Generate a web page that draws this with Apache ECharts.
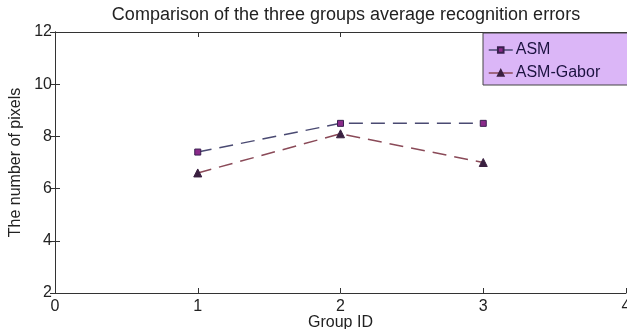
<!DOCTYPE html>
<html><head><meta charset="utf-8">
<script src="https://cdn.jsdelivr.net/npm/echarts@6/dist/echarts.min.js"></script>
<style>html,body{margin:0;padding:0;background:#fff}#c{width:627px;height:329px}</style>
</head><body><div id="c"></div>
<script>
const groupIds = [1, 2, 3];
const asm = [7.4, 8.5, 8.5];
const asmGabor = [6.6, 8.1, 7.0];
const seriesNames = ['ASM', 'ASM-Gabor'];
const titleText = 'Comparison of the three groups average recognition errors';
const xLabel = 'Group ID';
const yLabel = 'The number of pixels';

const font = 'Liberation Sans, Arial, sans-serif';
const axisCol = '#333';
const chart = echarts.init(document.getElementById('c'), null, {renderer: 'canvas'});
const frameAxis = (pos, isX) => ({
  type: 'value', position: pos, min: isX ? 0 : 2, max: isX ? 4 : 12, interval: isX ? 1 : 2,
  axisLine: {show: true, lineStyle: {color: axisCol, width: 1}},
  axisTick: {show: true, inside: true, length: 5, lineStyle: {color: axisCol}},
  axisLabel: {show: false}, splitLine: {show: false}
});
chart.setOption({
  animation: false,
  backgroundColor: '#fff',
  title: {text: titleText, left: 341, textAlign: 'center', top: 1,
    textStyle: {fontFamily: font, fontSize: 18, fontWeight: 'normal', color: '#222'}},
  grid: {left: 55, right: 1, top: 32, bottom: 36, containLabel: false, outerBoundsMode: 'none'},
  legend: {
    orient: 'vertical', left: 483, top: 33,
    padding: [9, 40, 4, 5], itemGap: 7, itemWidth: 24, itemHeight: 7,
    backgroundColor: '#dbb6f7', borderColor: '#444', borderWidth: 1,
    lineStyle: {type: 'solid', width: 1.5},
    textStyle: {fontFamily: font, fontSize: 16, color: '#1c1240', padding: [0, 0, 0, -2]},
    data: seriesNames
  },
  xAxis: [{
    type: 'value', min: 0, max: 4, interval: 1, position: 'bottom',
    name: xLabel, nameLocation: 'middle', nameGap: 22, nameMoveOverlap: false,
    nameTextStyle: {fontFamily: font, fontSize: 16, color: '#222'},
    axisLine: {show: true, lineStyle: {color: axisCol, width: 1}},
    axisTick: {show: true, inside: true, length: 5, lineStyle: {color: axisCol}},
    axisLabel: {fontFamily: font, fontSize: 16, color: '#222', margin: 6, showMaxLabel: true},
    splitLine: {show: false}
  }, frameAxis('top', true)],
  yAxis: [{
    type: 'value', min: 2, max: 12, interval: 2, position: 'left',
    name: yLabel, nameLocation: 'middle', nameGap: 31, nameMoveOverlap: false,
    nameTextStyle: {fontFamily: font, fontSize: 16, color: '#222'},
    axisLine: {show: true, lineStyle: {color: axisCol, width: 1}},
    axisTick: {show: true, inside: true, length: 5, lineStyle: {color: axisCol}},
    axisLabel: {fontFamily: font, fontSize: 16, color: '#222', margin: 3},
    splitLine: {show: false}
  }, frameAxis('right', false)],
  series: [
    {name: seriesNames[0], type: 'line', xAxisIndex: 0, yAxisIndex: 0,
     data: groupIds.map((g, i) => [g, asm[i]]),
     symbol: 'rect', symbolSize: 6, showAllSymbol: true,
     lineStyle: {color: '#4a4a72', width: 1.5, type: [14, 8]},
     itemStyle: {color: '#8a2a8a', borderColor: '#3a2050', borderWidth: 1}},
    {name: seriesNames[1], type: 'line', xAxisIndex: 0, yAxisIndex: 0,
     data: groupIds.map((g, i) => [g, asmGabor[i]]),
     symbol: 'triangle', symbolSize: 8, showAllSymbol: true,
     lineStyle: {color: '#8a4a58', width: 1.5, type: [14, 8]},
     itemStyle: {color: '#3a2040', borderColor: '#3a2040', borderWidth: 1}}
  ]
});
</script></body></html>
